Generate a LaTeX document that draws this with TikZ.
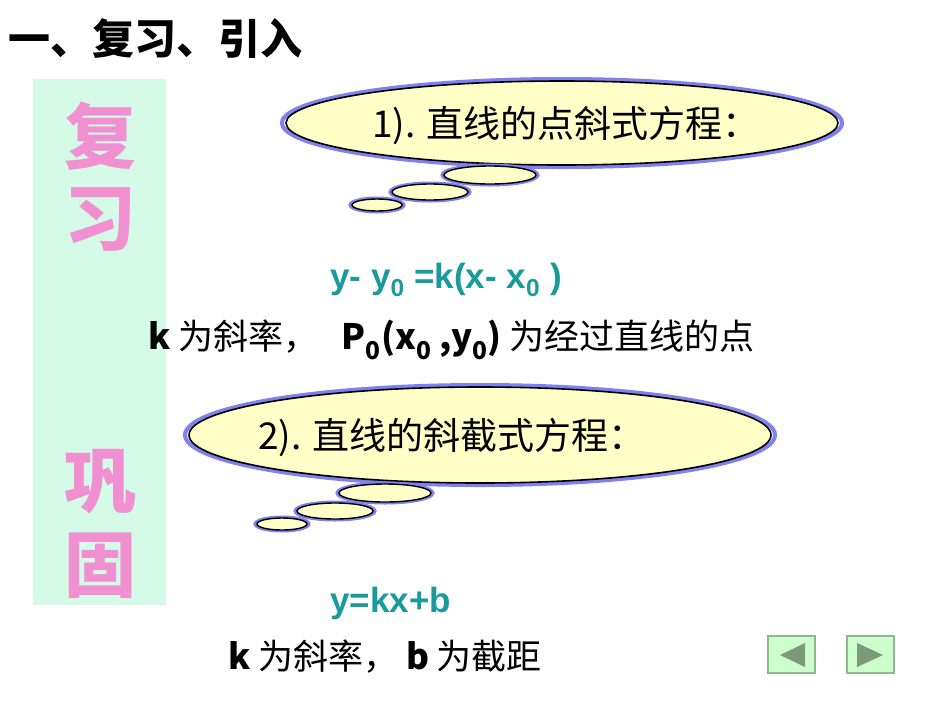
\documentclass[tikz,border=0pt]{standalone}
\usepackage{fontspec}
\setmainfont{Liberation Sans}
\newfontfamily\cjk{Noto Sans CJK SC}
\newfontfamily\cjkb{Noto Sans CJK SC Black}
\begin{document}
\begin{tikzpicture}[x=1pt,y=-1pt,
  bubble/.style={fill=bubfill,draw=black,line width=1.6pt},
  shadowb/.style={draw=bubblue,line width=4pt},
  txt/.style={font=\fontsize{37}{40}\selectfont\cjk,inner sep=0},
  teal/.style={text=tealc,font=\fontsize{35}{38}\selectfont\bfseries,inner sep=0},
  body/.style={font=\fontsize{35}{38}\selectfont\cjk,inner sep=0},
  pinkc/.style={text=pinkt,font=\fontsize{72}{72}\selectfont\cjkb,inner sep=0},
  btn/.style={fill=btnfill,draw=btnedge,line width=1.5pt}]
\definecolor{bubfill}{HTML}{FFFFC8}
\definecolor{bubblue}{HTML}{8080F0}
\definecolor{tealc}{HTML}{1A9A9A}
\definecolor{pinkt}{HTML}{F090D0}
\definecolor{barc}{HTML}{D6FAE8}
\definecolor{btnfill}{HTML}{CCFFCC}
\definecolor{btnedge}{HTML}{90B890}
\definecolor{arrowc}{HTML}{7A9A7A}
\useasboundingbox (0,0) rectangle (950,713);
\fill[white] (0,0) rectangle (950,713);
\node[anchor=west,font=\fontsize{42}{44}\selectfont\cjkb,inner sep=0] (title) at (8,38) {一、复习、引入};
\fill[barc] (33,79) rectangle (166,605);
\node[pinkc] (c1) at (100,136) {复};
\node[pinkc] (c2) at (100,220) {习};
\node[pinkc] (c3) at (100,482) {巩};
\node[pinkc] (c4) at (100,566) {固};
% bubble 1
\draw[shadowb] (562,123) ellipse [x radius=280,y radius=44];
\draw[bubble] (562,123) ellipse [x radius=276,y radius=42];
\foreach \cx/\cy/\rx/\ry in {490/175/46/9, 430/192/38/8, 377/205/25/6}{
  \draw[draw=bubblue,line width=3pt] (\cx,\cy) ellipse [x radius=\rx+2,y radius=\ry+1];
  \draw[bubble,line width=1.4pt] (\cx,\cy) ellipse [x radius=\rx,y radius=\ry];}
\node[txt] (t1) at (566,125) {1). 直线的点斜式方程：};
\node[teal,anchor=west] (f1) at (330,280) {y- y\textsubscript{0} =k(x- x\textsubscript{0} )};
\node[body,anchor=west] (d1) at (148,340) {\textbf{k} 为斜率，\ \ \ \textbf{P\textsubscript{0}(x\textsubscript{0} ,y\textsubscript{0})} 为经过直线的点};
% bubble 2
\draw[shadowb] (480,435) ellipse [x radius=295,y radius=50];
\draw[bubble] (480,435) ellipse [x radius=291,y radius=48];
\foreach \cx/\cy/\rx/\ry in {385/493/46/9, 335/511/38/8, 282/524/25/6}{
  \draw[draw=bubblue,line width=3pt] (\cx,\cy) ellipse [x radius=\rx+2,y radius=\ry+1];
  \draw[bubble,line width=1.4pt] (\cx,\cy) ellipse [x radius=\rx,y radius=\ry];}
\node[txt] (t2) at (452,437) {2). 直线的斜截式方程：};
\node[teal,anchor=west] (f2) at (330,603) {y=kx+b};
\node[body,anchor=west] (d2) at (228,657) {\textbf{k} 为斜率， \textbf{b} 为截距};
% buttons
\draw[btn] (768,636) rectangle (815,673);
\fill[arrowc] (780,655) -- (805,643) -- (805,667) -- cycle;
\draw[btn] (847,636) rectangle (894,673);
\fill[arrowc] (883,655) -- (857,643) -- (857,667) -- cycle;
\end{tikzpicture}
\end{document}
